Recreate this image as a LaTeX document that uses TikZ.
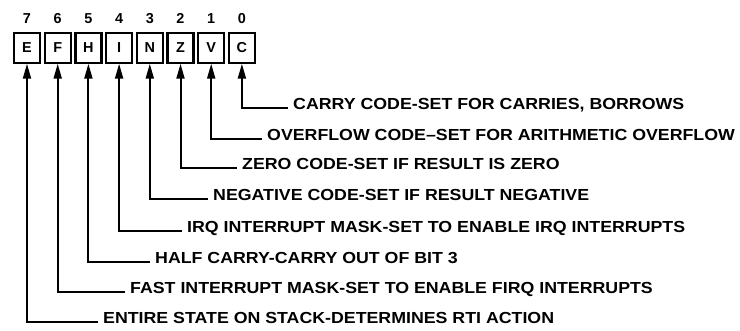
\documentclass[tikz,border=0pt]{standalone}
\usepackage{fontspec}
\setmainfont{Liberation Sans}
\newfontfamily\labfont{Liberation Sans}[FakeStretch=1.11]
\usetikzlibrary{arrows.meta}
\begin{document}
\begin{tikzpicture}[x=1pt,y=-1pt,
  txt/.style={font=\fontsize{14.4}{16}\selectfont\bfseries},
  bitbox/.style={txt,draw,line width=2.2pt,minimum width=26pt,minimum height=30pt,inner sep=0pt,anchor=north},
  bitnum/.style={txt,inner sep=0pt,text height=10.3pt,text depth=0pt},
  lab/.style={font=\labfont\fontsize{16}{18}\selectfont\bfseries,anchor=base west,inner xsep=5pt,inner ysep=0pt},
  conn/.style={line width=2pt,-{Triangle[length=15pt,width=8pt]}}]
\useasboundingbox (0,0) rectangle (740,330);
% boxes
\foreach \i/\l [evaluate=\i as \xx using 27+30.7*(7-\i)] in {7/E,6/F,5/H,4/I,3/N,2/Z,1/V,0/C}{
  \node[bitbox] (b\i) at (\xx,31.5) {\l};
  \node[bitnum] (n\i) at (\xx,18) {\i};
}
% labels
\node[lab] (l0) at (288,109) {CARRY CODE-SET FOR CARRIES, BORROWS};
\node[lab] (l1) at (262,140) {OVERFLOW CODE\textendash SET FOR ARITHMETIC OVERFLOW};
\node[lab] (l2) at (237,169) {ZERO CODE-SET IF RESULT IS ZERO};
\node[lab] (l3) at (208,200) {NEGATIVE CODE-SET IF RESULT NEGATIVE};
\node[lab] (l4) at (182,232) {IRQ INTERRUPT MASK-SET TO ENABLE IRQ INTERRUPTS};
\node[lab] (l5) at (150,263) {HALF CARRY-CARRY OUT OF BIT 3};
\node[lab] (l6) at (125,293) {FAST INTERRUPT MASK-SET TO ENABLE FIRQ INTERRUPTS};
\node[lab] (l7) at (98,323) {ENTIRE STATE ON STACK-DETERMINES RTI ACTION};
\foreach \i in {0,...,7}{
  \draw[conn] ([yshift=1.5pt]l\i.base west) -| (b\i.south);
}
\end{tikzpicture}
\end{document}
